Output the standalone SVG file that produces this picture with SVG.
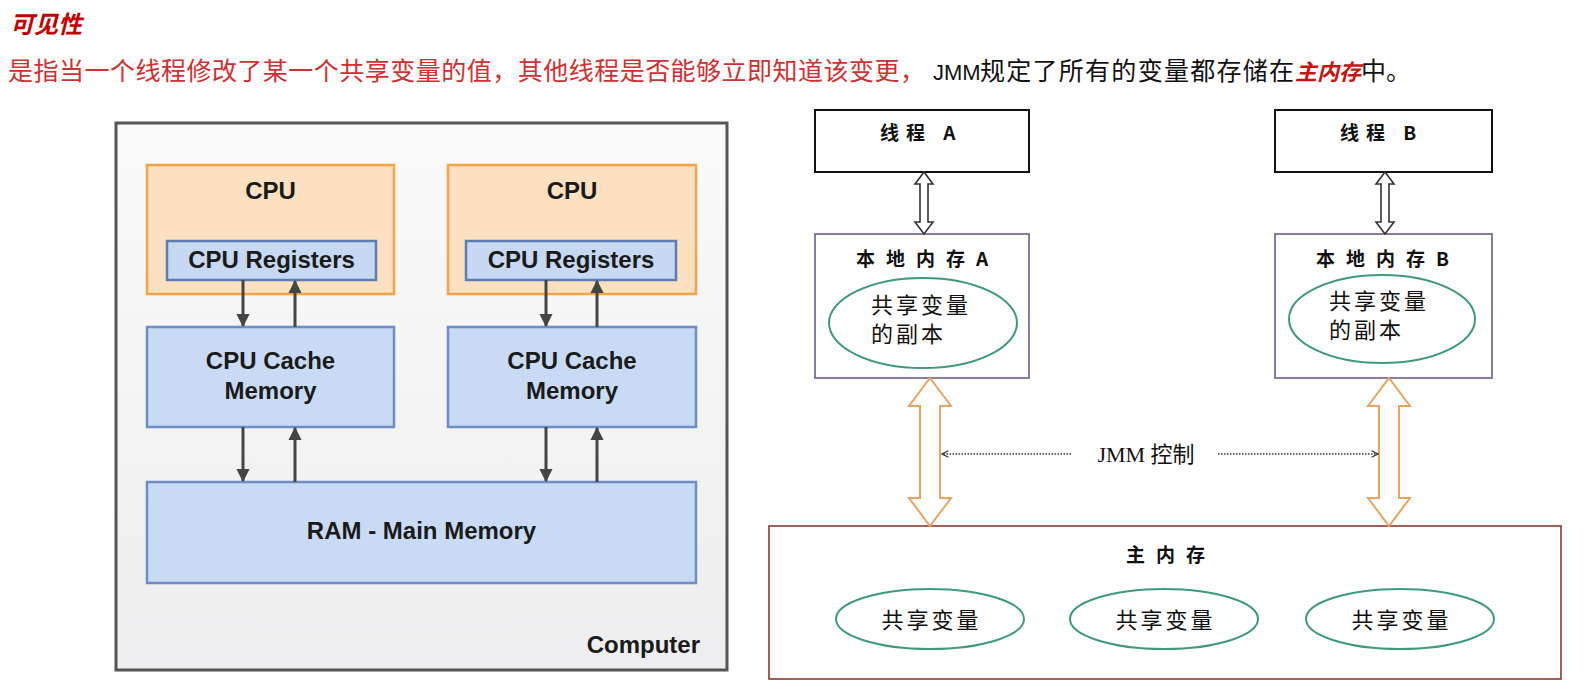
<svg xmlns="http://www.w3.org/2000/svg" width="1585" height="683" viewBox="0 0 1585 683">
<style>
.cjk{font-family:"Noto Sans CJK SC","Noto Sans",sans-serif;}
.hw{font-family:"Liberation Sans",Arial,sans-serif;font-weight:bold;font-size:24px;fill:#1a1a1a;text-anchor:middle;}
.lbl{font-family:"Noto Sans CJK SC",sans-serif;font-size:19px;font-weight:bold;fill:#111;}
.ell{font-family:"Noto Sans CJK SC",sans-serif;font-size:22px;fill:#111;letter-spacing:3px;}
.cpu{fill:#fde0bf;stroke:#f2a446;stroke-width:2.5;}
.reg{fill:#c6d8f2;stroke:#5b7db3;stroke-width:2.5;}
.mem{fill:#c9dbf4;stroke:#6c8dc6;stroke-width:2.5;}
.conn{stroke:#454545;stroke-width:3;fill:none;}
.thin{fill:#fff;stroke:#333;stroke-width:1.6;}
.orng{fill:#fff;stroke:#e8a464;stroke-width:2;}
.grn{fill:#fff;stroke:#3d9a7c;stroke-width:2;}
.dot{stroke:#333;stroke-width:1.6;stroke-dasharray:1.5 1.5;fill:none;}
</style>
<defs>
<linearGradient id="bg" x1="0" y1="0" x2="0" y2="1">
<stop offset="0" stop-color="#fafafa"/>
<stop offset="1" stop-color="#eeeef0"/>
</linearGradient>
<marker id="ah" viewBox="0 0 12 12" refX="11" refY="6" markerWidth="4.5" markerHeight="4.5" orient="auto" markerUnits="strokeWidth">
<path d="M0,0 L12,6 L0,12 Z" fill="#454545"/>
</marker>
<marker id="dh" viewBox="0 0 10 10" refX="9" refY="5" markerWidth="5" markerHeight="5" orient="auto" markerUnits="strokeWidth">
<path d="M1,1 L9,5 L1,9" fill="none" stroke="#333" stroke-width="1.6"/>
</marker>
<path id="thinArrow" d="M0,0 L9,12 L4,12 L4,50 L9,50 L0,62 L-9,50 L-4,50 L-4,12 L-9,12 Z"/>
<path id="bigArrow" d="M0,0 L21,28 L10,28 L10,120 L21,120 L0,148 L-21,120 L-10,120 L-10,28 L-21,28 Z"/>
</defs>
<rect width="1585" height="683" fill="#fff"/>

<g id="title">
<text x="10" y="33" class="cjk" font-size="24" font-weight="bold" font-style="italic" fill="#c40000">可见性</text>
<text x="8" y="80" class="cjk" font-size="25" fill="#d23030" textLength="917" lengthAdjust="spacing">是指当一个线程修改了某一个共享变量的值，其他线程是否能够立即知道该变更，</text>
<text x="933" y="80" font-family="Liberation Sans,Arial,sans-serif" font-size="22" fill="#111">JMM</text>
<text x="980" y="80" class="cjk" font-size="25" fill="#111" textLength="314" lengthAdjust="spacing">规定了所有的变量都存储在</text>
<text x="1295" y="80" class="cjk" font-size="22" font-weight="bold" font-style="italic" fill="#cc1010">主内存</text>
<text x="1361" y="80" class="cjk" font-size="25" fill="#111">中。</text>
</g>

<g id="computer">
<rect x="116" y="123" width="611" height="547" fill="url(#bg)" stroke="#555" stroke-width="3"/>
<text x="700" y="653" class="hw" style="text-anchor:end">Computer</text>
</g>
<g id="cpu1">
<rect x="147" y="165" width="247" height="129" class="cpu"/>
<text x="270.5" y="199" class="hw">CPU</text>
</g>
<g id="reg1">
<rect x="167" y="241" width="209" height="39" class="reg"/>
<text x="271.5" y="268" class="hw">CPU Registers</text>
</g>
<g id="cpu2">
<rect x="448" y="165" width="248" height="129" class="cpu"/>
<text x="572" y="199" class="hw">CPU</text>
</g>
<g id="reg2">
<rect x="466" y="241" width="210" height="39" class="reg"/>
<text x="571" y="268" class="hw">CPU Registers</text>
</g>
<g id="cache1">
<rect x="147" y="327" width="247" height="100" class="mem"/>
<text x="270.5" y="369" class="hw">CPU Cache</text>
<text x="270.5" y="399" class="hw">Memory</text>
</g>
<g id="cache2">
<rect x="448" y="327" width="248" height="100" class="mem"/>
<text x="572" y="369" class="hw">CPU Cache</text>
<text x="572" y="399" class="hw">Memory</text>
</g>
<g id="ram">
<rect x="147" y="482" width="549" height="101" class="mem"/>
<text x="421.5" y="539" class="hw">RAM - Main Memory</text>
</g>

<g id="threadA">
<rect x="815" y="110" width="214" height="62" fill="#fff" stroke="#111" stroke-width="2"/>
<text x="880" y="140" class="lbl" letter-spacing="7">线程 A</text>
</g>
<g id="threadB">
<rect x="1275" y="110" width="217" height="62" fill="#fff" stroke="#111" stroke-width="2"/>
<text x="1340" y="140" class="lbl" letter-spacing="7">线程 B</text>
</g>
<g id="localA">
<rect x="815" y="234" width="214" height="144" fill="#fff" stroke="#6e5a92" stroke-width="1.6"/>
<text x="856" y="266" class="lbl" letter-spacing="11">本地内存A</text>
<ellipse cx="923" cy="323" rx="94" ry="45" class="grn"/>
<text x="871" y="313" class="ell">共享变量</text>
<text x="871" y="342" class="ell">的副本</text>
</g>
<g id="localB">
<rect x="1275" y="234" width="217" height="144" fill="#fff" stroke="#6e5a92" stroke-width="1.6"/>
<text x="1316" y="266" class="lbl" letter-spacing="11">本地内存B</text>
<ellipse cx="1382" cy="319" rx="93" ry="44" class="grn"/>
<text x="1329" y="309" class="ell">共享变量</text>
<text x="1329" y="338" class="ell">的副本</text>
</g>
<g id="mainMem">
<rect x="769" y="526" width="792" height="153" fill="#fff" stroke="#8a3a2c" stroke-width="1.6"/>
<text x="1126" y="562" class="lbl" letter-spacing="11">主内存</text>
<ellipse cx="930" cy="619" rx="94" ry="30" class="grn"/>
<text x="931.5" y="628" class="ell" text-anchor="middle">共享变量</text>
<ellipse cx="1164" cy="619" rx="94" ry="30" class="grn"/>
<text x="1165.5" y="628" class="ell" text-anchor="middle">共享变量</text>
<ellipse cx="1400" cy="619" rx="94" ry="30" class="grn"/>
<text x="1401.5" y="628" class="ell" text-anchor="middle">共享变量</text>
</g>

<g id="connectors">
<line x1="243" y1="280" x2="243" y2="326" class="conn" marker-end="url(#ah)"/>
<line x1="295" y1="327" x2="295" y2="281" class="conn" marker-end="url(#ah)"/>
<line x1="546" y1="280" x2="546" y2="326" class="conn" marker-end="url(#ah)"/>
<line x1="597" y1="327" x2="597" y2="281" class="conn" marker-end="url(#ah)"/>
<line x1="243" y1="427" x2="243" y2="481" class="conn" marker-end="url(#ah)"/>
<line x1="295" y1="482" x2="295" y2="428" class="conn" marker-end="url(#ah)"/>
<line x1="546" y1="427" x2="546" y2="481" class="conn" marker-end="url(#ah)"/>
<line x1="597" y1="482" x2="597" y2="428" class="conn" marker-end="url(#ah)"/>
<use href="#thinArrow" x="924" y="172" class="thin"/>
<use href="#thinArrow" x="1385" y="172" class="thin"/>
<use href="#bigArrow" x="930" y="378" class="orng"/>
<use href="#bigArrow" x="1389" y="378" class="orng"/>
<line x1="1071" y1="454" x2="942" y2="454" class="dot" marker-end="url(#dh)"/>
<line x1="1218" y1="454" x2="1378" y2="454" class="dot" marker-end="url(#dh)"/>
<text x="1146" y="462" text-anchor="middle" font-size="22" fill="#111"><tspan font-family="Liberation Serif,serif">JMM </tspan><tspan class="cjk">控制</tspan></text>
</g>
</svg>
